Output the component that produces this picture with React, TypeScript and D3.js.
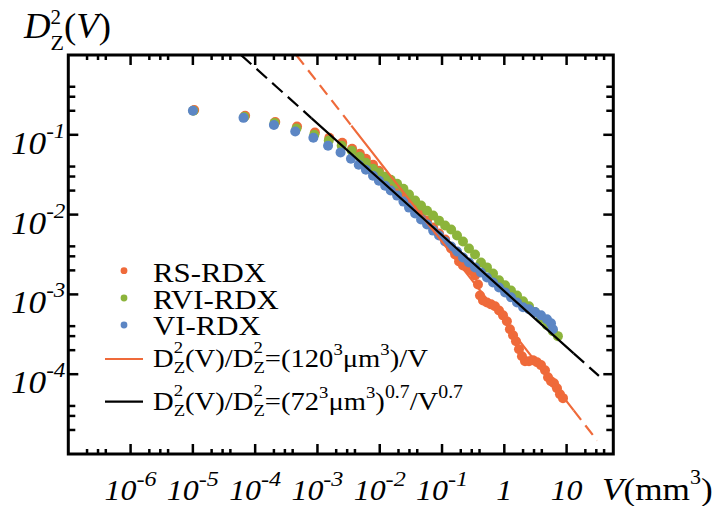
import React from "react";
import * as d3 from "d3";

const WIDTH = 713;
const HEIGHT = 506;

const X_DOMAIN: [number, number] = [1e-7, 56.2];
const Y_DOMAIN: [number, number] = [1e-5, 1];

const xMajorTicks = [1e-6, 1e-5, 1e-4, 1e-3, 1e-2, 1e-1, 1, 10];
const xTickBase = ["10", "10", "10", "10", "10", "10", "1", "10"];
const xTickExp = ["-6", "-5", "-4", "-3", "-2", "-1", "", ""];
const yMajorTicks = [1e-1, 1e-2, 1e-3, 1e-4];
const yTickExp = ["-1", "-2", "-3", "-4"];
const xMinorDecades = [-7, -6, -5, -4, -3, -2, -1, 0, 1];
const yMinorDecades = [-5, -4, -3, -2, -1];
const minorMultipliers = [2, 3, 4];

const seriesNames = ["RS-RDX", "RVI-RDX", "VI-RDX"];
const seriesColors = ["#EF6A3A", "#8CB43B", "#5C86C4"];

// [V (mm^3), D_Z^2(V)]
const rsPoints: [number, number][] = [
  [1.05e-5, 0.205], [6.9e-5, 0.173], [2.1e-4, 0.145], [4.7e-4, 0.127], [9.1e-4, 0.107],
  [1.55e-3, 0.0917], [2.5e-3, 0.0794], [3.6e-3, 0.0668], [4.8e-3, 0.0579],
  [6.0e-3, 0.0501], [7.8e-3, 0.0422], [9.7e-3, 0.0355], [1.22e-2, 0.0299], [1.5e-2, 0.0251],
  [1.9e-2, 0.0218], [2.4e-2, 0.0178], [2.95e-2, 0.01455], [3.7e-2, 0.0119], [4.6e-2, 0.01],
  [5.75e-2, 0.0084], [7.2e-2, 0.00688], [8.95e-2, 0.00579], [0.112, 0.00487], [0.14, 0.00376],
  [0.162, 0.00316], [0.1875, 0.00259], [0.217, 0.0023], [0.252, 0.00218], [0.292, 0.002],
  [0.339, 0.00173], [0.378, 0.00133], [0.407, 0.00097], [0.455, 0.00084], [0.527, 0.00079],
  [0.612, 0.00075], [0.709, 0.00071], [0.822, 0.00063], [0.953, 0.000546], [1.1, 0.00046],
  [1.23, 0.000365], [1.38, 0.000307], [1.54, 0.000259], [1.72, 0.000205], [1.92, 0.000168],
  [2.15, 0.000145], [2.49, 0.000145], [2.88, 0.00015], [3.35, 0.000141], [3.88, 0.00013],
  [4.5, 0.000112], [5.03, 0.0000917], [5.62, 0.0000818], [6.28, 0.0000772], [7.01, 0.0000668],
  [7.83, 0.0000562], [8.75, 0.0000501],
];

const rviPoints: [number, number][] = [
  [1.02e-5, 0.2], [6.7e-5, 0.168], [2.05e-4, 0.141], [4.6e-4, 0.12], [8.9e-4, 0.1],
  [1.52e-3, 0.085], [2.45e-3, 0.073], [3.55e-3, 0.063], [4.75e-3, 0.0531],
  [6.0e-3, 0.0447], [7.8e-3, 0.0376], [9.7e-3, 0.0335], [1.22e-2, 0.0299], [1.5e-2, 0.0274],
  [1.9e-2, 0.0244], [2.4e-2, 0.0211], [2.95e-2, 0.0178], [3.7e-2, 0.015], [4.6e-2, 0.01296],
  [5.75e-2, 0.0112], [7.2e-2, 0.00972], [8.95e-2, 0.0084], [0.112, 0.00729], [0.14, 0.0065],
  [0.174, 0.00546], [0.217, 0.0046], [0.271, 0.00376], [0.339, 0.00316], [0.422, 0.00251],
  [0.527, 0.00218], [0.659, 0.00183], [0.822, 0.0015], [1.03, 0.0013], [1.28, 0.00112],
  [1.6, 0.00097], [2.0, 0.00082], [2.49, 0.00071], [3.11, 0.0006], [3.88, 0.0005],
  [4.84, 0.00041], [6.03, 0.000345], [7.25, 0.0003],
];

const viPoints: [number, number][] = [
  [1.0e-5, 0.2], [6.5e-5, 0.163], [2.0e-4, 0.133], [4.4e-4, 0.11], [8.6e-4, 0.0917],
  [1.48e-3, 0.0729], [2.35e-3, 0.0602], [3.45e-3, 0.0501], [4.6e-3, 0.0422],
  [6.0e-3, 0.0365], [7.8e-3, 0.0307], [9.7e-3, 0.0266], [1.22e-2, 0.023], [1.5e-2, 0.02],
  [1.9e-2, 0.0173], [2.4e-2, 0.01455], [2.95e-2, 0.01224], [3.7e-2, 0.0103], [4.6e-2, 0.00866],
  [5.75e-2, 0.0075], [7.2e-2, 0.0063], [8.95e-2, 0.00546], [0.112, 0.0046], [0.14, 0.00398],
  [0.174, 0.00345], [0.217, 0.0029], [0.271, 0.00251], [0.339, 0.00218], [0.422, 0.00188],
  [0.527, 0.00163], [0.659, 0.00141], [0.822, 0.00122], [1.03, 0.00106], [1.28, 0.00092],
  [1.6, 0.00079], [2.0, 0.00069], [2.49, 0.00065], [3.11, 0.0006], [3.88, 0.000546],
  [4.84, 0.000487], [5.62, 0.000434], [6.03, 0.000365],
];

// fit lines: D = k * V^-e ; ranges: [dash start, solid start, solid end, dash end]
const fitConstants = [4.57e-4, 1.1e-3];
const fitExponents = [1, 0.7];
const fitColors = ["#EF6A3A", "#000000"];
const fitRanges = [
  [4.6e-4, 3.5e-3, 13, 31],
  [5.9e-5, 8e-4, 13, 33],
];
const fitDashes = ["12 7", "14 7"];

const FONT = "'Liberation Serif', 'Times New Roman', Times, serif";

export default function App() {
  const x = d3.scaleLog().domain(X_DOMAIN).range([68.3, 613.3]);
  const y = d3.scaleLog().domain(Y_DOMAIN).range([454, 55]);
  const [xl, xr] = x.range();
  const [yb, yt] = y.range();

  const xMinor: number[] = [];
  xMinorDecades.forEach((n) =>
    minorMultipliers.forEach((m) => {
      const v = m * Math.pow(10, n);
      if (v > X_DOMAIN[0] && v < X_DOMAIN[1]) xMinor.push(v);
    })
  );
  const yMinor: number[] = [];
  yMinorDecades.forEach((n) =>
    minorMultipliers.forEach((m) => {
      const v = m * Math.pow(10, n);
      if (v > Y_DOMAIN[0] && v < Y_DOMAIN[1]) yMinor.push(v);
    })
  );

  const lineGen = d3
    .line<number[]>()
    .x((d) => x(d[0]))
    .y((d) => y(d[1]));

  const fitSeg = (i: number, v0: number, v1: number) => {
    const k = fitConstants[i];
    const e = fitExponents[i];
    const pts = [v0, Math.sqrt(v0 * v1), v1].map((v) => [v, k * Math.pow(v, -e)]);
    return lineGen(pts) || "";
  };

  const allSeries = [rsPoints, rviPoints, viPoints];
  const tickColor = "#000";

  const legendDotY = [270.7, 298, 325];
  const legendTextY = [282, 308.5, 335];

  return (
    <svg
      width={WIDTH}
      height={HEIGHT}
      style={{ position: "absolute", left: 0, top: 0, background: "#fff" }}
      fontFamily={FONT}
    >
      <rect x={0} y={0} width={WIDTH} height={HEIGHT} fill="#fff" />

      {/* data points */}
      {allSeries.map((pts, si) => (
        <g key={si} fill={seriesColors[si]}>
          {pts.map((p, i) => (
            <circle key={i} cx={x(p[0])} cy={y(p[1])} r={5} />
          ))}
        </g>
      ))}

      {/* fit lines */}
      {fitConstants.map((k, i) => {
        const r = fitRanges[i];
        return (
          <g key={i} stroke={fitColors[i]} strokeWidth={2.2} fill="none">
            <path d={fitSeg(i, r[0], r[1])} strokeDasharray={fitDashes[i]} />
            <path d={fitSeg(i, r[1], r[2])} />
            <path d={fitSeg(i, r[2], r[3])} strokeDasharray={fitDashes[i]} />
          </g>
        );
      })}

      {/* ticks */}
      <g stroke={tickColor} strokeWidth={2.5}>
        {xMajorTicks.map((v, i) => (
          <g key={"xm" + i}>
            <line x1={x(v)} x2={x(v)} y1={yb} y2={yb - 10} />
            <line x1={x(v)} x2={x(v)} y1={yt} y2={yt + 10} />
          </g>
        ))}
        {xMinor.map((v, i) => (
          <g key={"xn" + i}>
            <line x1={x(v)} x2={x(v)} y1={yb} y2={yb - 5} />
            <line x1={x(v)} x2={x(v)} y1={yt} y2={yt + 5} />
          </g>
        ))}
        {yMajorTicks.map((v, i) => (
          <g key={"ym" + i}>
            <line x1={xl} x2={xl + 10} y1={y(v)} y2={y(v)} />
            <line x1={xr} x2={xr - 10} y1={y(v)} y2={y(v)} />
          </g>
        ))}
        {yMinor.map((v, i) => (
          <g key={"yn" + i}>
            <line x1={xl} x2={xl + 7} y1={y(v)} y2={y(v)} />
            <line x1={xr} x2={xr - 7} y1={y(v)} y2={y(v)} />
          </g>
        ))}
      </g>

      {/* frame */}
      <rect x={xl} y={yt} width={xr - xl} height={yb - yt} fill="none" stroke="#000" strokeWidth={3} />

      {/* y tick labels */}
      {yMajorTicks.map((v, i) => (
        <text
          key={"yl" + i}
          transform={`translate(11,${y(v) + 19}) scale(1.1,1)`}
          fontSize={32}
          fontStyle="italic"
          fill="#000"
        >
          10
          <tspan dy={-16} fontSize={21}>
            {yTickExp[i]}
          </tspan>
        </text>
      ))}

      {/* x tick labels */}
      {xMajorTicks.map((v, i) => (
        <text
          key={"xl" + i}
          transform={`translate(${x(v)},500) scale(1.1,1)`}
          fontSize={29}
          fontStyle="italic"
          textAnchor="middle"
          fill="#000"
        >
          {xTickBase[i]}
          {xTickExp[i] ? (
            <tspan dy={-14} fontSize={22}>
              {xTickExp[i]}
            </tspan>
          ) : null}
        </text>
      ))}

      {/* axis titles */}
      <text transform="translate(24,38) scale(1.05,1)" fontSize={35} fill="#000">
        <tspan fontStyle="italic">D</tspan>
        <tspan dy={-14} fontSize={20}>2</tspan>
        <tspan dx={-10} dy={26} fontSize={21}>Z</tspan>
        <tspan dy={-12}>(</tspan>
        <tspan fontStyle="italic">V</tspan>
        <tspan>)</tspan>
      </text>
      <text transform="translate(602,500) scale(1.1,1)" fontSize={32} fill="#000">
        <tspan fontStyle="italic">V</tspan>
        <tspan>(mm</tspan>
        <tspan dy={-16} fontSize={20}>3</tspan>
        <tspan dy={16}>)</tspan>
      </text>

      {/* legend */}
      {seriesNames.map((n, i) => (
        <g key={"lg" + i}>
          <circle cx={124} cy={legendDotY[i]} r={3.4} fill={seriesColors[i]} />
          <text transform={`translate(153,${legendTextY[i]}) scale(1.1,1)`} fontSize={28} fill="#000">
            {n}
          </text>
        </g>
      ))}
      <line x1={105} x2={143} y1={359} y2={359} stroke={fitColors[0]} strokeWidth={2.2} />
      <line x1={105} x2={143} y1={401.7} y2={401.7} stroke={fitColors[1]} strokeWidth={2.2} />
      <text transform="translate(153,367) scale(1.1,1)" fontSize={26} fill="#000">
        <tspan>D</tspan>
        <tspan dy={-14} fontSize={17}>2</tspan>
        <tspan dx={-8.5} dy={20} fontSize={17}>Z</tspan>
        <tspan dy={-6}>(V)/D</tspan>
        <tspan dy={-14} fontSize={17}>2</tspan>
        <tspan dx={-8.5} dy={20} fontSize={17}>Z</tspan>
        <tspan dy={-6}>=(120</tspan>
        <tspan dy={-12} fontSize={17}>3</tspan>
        <tspan dy={12}>μm</tspan>
        <tspan dy={-12} fontSize={17}>3</tspan>
        <tspan dy={12}>)/V</tspan>
      </text>
      <text transform="translate(153,410) scale(1.1,1)" fontSize={26} fill="#000">
        <tspan>D</tspan>
        <tspan dy={-14} fontSize={17}>2</tspan>
        <tspan dx={-8.5} dy={20} fontSize={17}>Z</tspan>
        <tspan dy={-6}>(V)/D</tspan>
        <tspan dy={-14} fontSize={17}>2</tspan>
        <tspan dx={-8.5} dy={20} fontSize={17}>Z</tspan>
        <tspan dy={-6}>=(72</tspan>
        <tspan dy={-12} fontSize={17}>3</tspan>
        <tspan dy={12}>μm</tspan>
        <tspan dy={-12} fontSize={17}>3</tspan>
        <tspan dy={12}>)</tspan>
        <tspan dy={-12} fontSize={18}>0.7</tspan>
        <tspan dy={12}>/V</tspan>
        <tspan dy={-12} fontSize={18}>0.7</tspan>
      </text>
    </svg>
  );
}
